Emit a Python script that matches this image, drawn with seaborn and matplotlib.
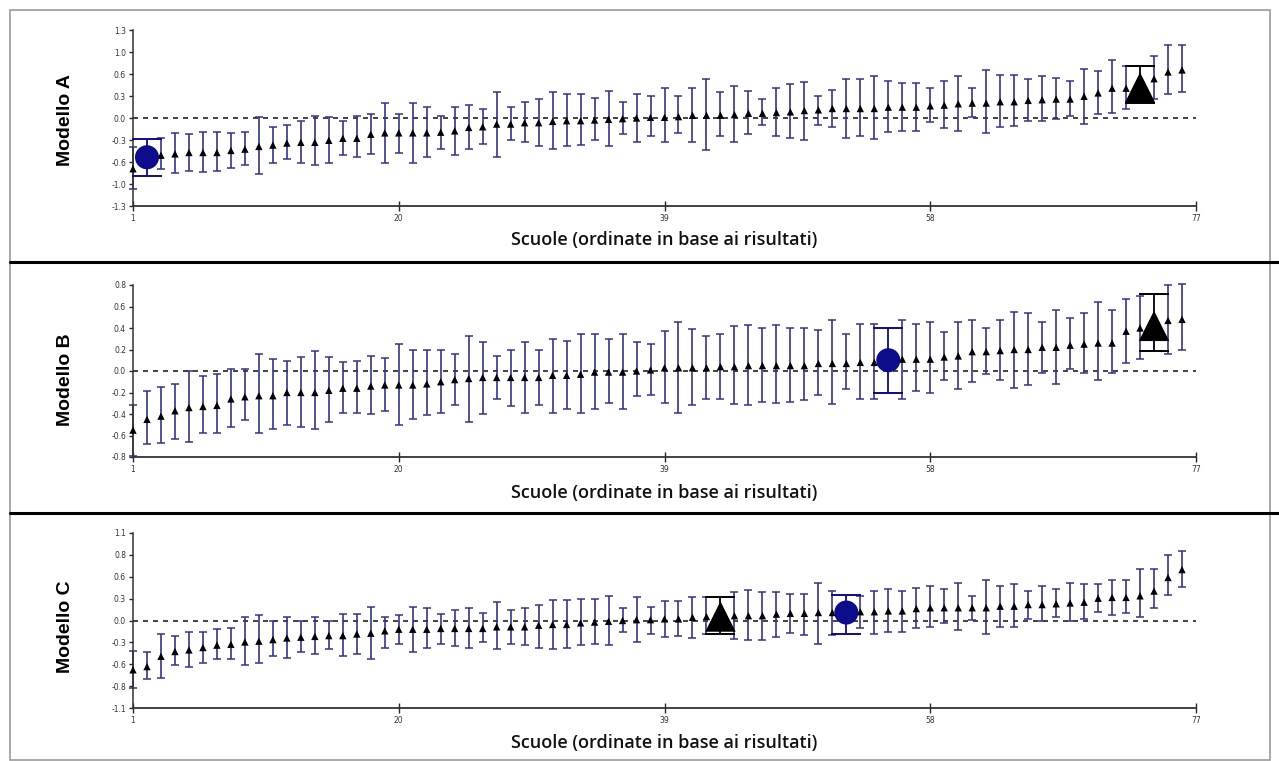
import numpy as np
import pandas as pd
import matplotlib
matplotlib.use("Agg")
import matplotlib.pyplot as plt
import seaborn as sns
from matplotlib.lines import Line2D
from matplotlib.patches import Rectangle

# ranked schools
schools = list(range(1, 77))
x_ticks = [1, 20, 39, 58, 77]

# Modello A
a_mean = [-0.75, -0.58, -0.55, -0.53, -0.51, -0.51, -0.51, -0.48, -0.46, -0.42,
          -0.40, -0.37, -0.36, -0.36, -0.33, -0.30, -0.30, -0.24, -0.22, -0.22,
          -0.22, -0.22, -0.21, -0.19, -0.14, -0.13, -0.09, -0.09, -0.07, -0.07,
          -0.05, -0.04, -0.04, -0.03, -0.02, -0.01, 0.00, 0.01, 0.01, 0.02,
          0.04, 0.04, 0.04, 0.05, 0.07, 0.07, 0.08, 0.09, 0.11, 0.12,
          0.14, 0.14, 0.14, 0.14, 0.16, 0.16, 0.16, 0.18, 0.19, 0.21,
          0.22, 0.22, 0.24, 0.24, 0.26, 0.27, 0.28, 0.28, 0.32, 0.37,
          0.44, 0.44, 0.45, 0.58, 0.68, 0.71]
a_hi = [-0.43, -0.31, -0.30, -0.22, -0.24, -0.20, -0.20, -0.22, -0.20, 0.02,
        -0.14, -0.10, -0.04, 0.03, 0.02, -0.04, 0.03, 0.06, 0.22, 0.06,
        0.22, 0.16, 0.03, 0.16, 0.19, 0.13, 0.38, 0.16, 0.24, 0.28,
        0.38, 0.35, 0.35, 0.29, 0.40, 0.24, 0.35, 0.32, 0.44, 0.32,
        0.44, 0.58, 0.38, 0.48, 0.40, 0.28, 0.44, 0.50, 0.53, 0.33,
        0.42, 0.58, 0.58, 0.62, 0.54, 0.52, 0.52, 0.44, 0.54, 0.62,
        0.45, 0.71, 0.64, 0.64, 0.57, 0.62, 0.59, 0.54, 0.73, 0.70,
        0.85, 0.77, 0.77, 0.91, 1.08, 1.08]
a_lo = [-1.05, -0.85, -0.75, -0.81, -0.79, -0.80, -0.79, -0.74, -0.70, -0.83,
        -0.66, -0.61, -0.66, -0.70, -0.66, -0.55, -0.58, -0.53, -0.66, -0.52,
        -0.66, -0.58, -0.46, -0.54, -0.46, -0.38, -0.57, -0.33, -0.36, -0.41,
        -0.46, -0.41, -0.40, -0.33, -0.42, -0.24, -0.35, -0.26, -0.36, -0.22,
        -0.35, -0.48, -0.26, -0.35, -0.24, -0.11, -0.27, -0.30, -0.32, -0.11,
        -0.14, -0.29, -0.26, -0.31, -0.20, -0.19, -0.19, -0.06, -0.15, -0.19,
        0.01, -0.22, -0.14, -0.12, -0.04, -0.04, -0.01, 0.03, -0.09, 0.06,
        0.07, 0.14, 0.22, 0.28, 0.35, 0.38]

# Modello B
b_mean = [-0.55, -0.45, -0.42, -0.37, -0.34, -0.33, -0.32, -0.26, -0.24, -0.23,
          -0.23, -0.20, -0.20, -0.20, -0.18, -0.16, -0.16, -0.14, -0.13, -0.13,
          -0.13, -0.12, -0.10, -0.08, -0.07, -0.06, -0.06, -0.06, -0.06, -0.06,
          -0.04, -0.04, -0.03, -0.01, -0.01, -0.01, 0.00, 0.01, 0.03, 0.03,
          0.03, 0.03, 0.04, 0.04, 0.05, 0.05, 0.05, 0.05, 0.05, 0.07,
          0.07, 0.07, 0.08, 0.08, 0.10, 0.11, 0.11, 0.11, 0.13, 0.14,
          0.18, 0.18, 0.19, 0.20, 0.20, 0.22, 0.22, 0.24, 0.25, 0.26,
          0.26, 0.37, 0.40, 0.42, 0.47, 0.48]
b_hi = [-0.32, -0.19, -0.15, -0.12, 0.00, -0.05, -0.03, 0.02, 0.02, 0.16,
        0.11, 0.09, 0.13, 0.19, 0.13, 0.08, 0.09, 0.14, 0.12, 0.25,
        0.20, 0.20, 0.20, 0.16, 0.33, 0.27, 0.14, 0.20, 0.27, 0.20,
        0.30, 0.28, 0.34, 0.34, 0.30, 0.34, 0.27, 0.25, 0.37, 0.46,
        0.39, 0.33, 0.34, 0.42, 0.43, 0.40, 0.43, 0.40, 0.40, 0.38,
        0.47, 0.34, 0.44, 0.44, 0.40, 0.47, 0.44, 0.46, 0.36, 0.46,
        0.47, 0.40, 0.47, 0.55, 0.54, 0.46, 0.57, 0.49, 0.54, 0.64,
        0.57, 0.67, 0.70, 0.72, 0.80, 0.81]
b_lo = [-0.79, -0.68, -0.67, -0.63, -0.66, -0.58, -0.58, -0.52, -0.46, -0.58,
        -0.54, -0.50, -0.52, -0.54, -0.47, -0.39, -0.39, -0.40, -0.37, -0.50,
        -0.45, -0.41, -0.39, -0.32, -0.47, -0.40, -0.26, -0.33, -0.39, -0.32,
        -0.39, -0.35, -0.39, -0.35, -0.30, -0.35, -0.23, -0.22, -0.30, -0.39,
        -0.32, -0.26, -0.26, -0.31, -0.32, -0.29, -0.30, -0.29, -0.27, -0.22,
        -0.31, -0.17, -0.26, -0.26, -0.20, -0.26, -0.19, -0.20, -0.08, -0.17,
        -0.10, -0.03, -0.08, -0.16, -0.13, -0.02, -0.12, 0.02, -0.02, -0.08,
        -0.02, 0.07, 0.11, 0.19, 0.16, 0.20]

# Modello C
c_mean = [-0.62, -0.58, -0.45, -0.39, -0.37, -0.34, -0.31, -0.30, -0.27, -0.26,
          -0.24, -0.22, -0.21, -0.20, -0.19, -0.19, -0.17, -0.16, -0.13, -0.11,
          -0.11, -0.11, -0.10, -0.10, -0.10, -0.10, -0.08, -0.08, -0.08, -0.06,
          -0.05, -0.05, -0.03, -0.02, -0.01, 0.00, 0.01, 0.01, 0.02, 0.02,
          0.04, 0.05, 0.05, 0.06, 0.06, 0.06, 0.08, 0.09, 0.09, 0.10,
          0.10, 0.10, 0.11, 0.11, 0.12, 0.12, 0.15, 0.16, 0.16, 0.16,
          0.16, 0.16, 0.18, 0.18, 0.20, 0.20, 0.21, 0.22, 0.23, 0.28,
          0.29, 0.29, 0.31, 0.37, 0.54, 0.64]
c_hi = [-0.38, -0.39, -0.17, -0.19, -0.15, -0.14, -0.11, -0.10, 0.05, 0.07,
        -0.01, 0.04, 0.00, 0.04, 0.00, 0.08, 0.08, 0.17, 0.05, 0.07,
        0.17, 0.16, 0.08, 0.13, 0.16, 0.10, 0.23, 0.13, 0.16, 0.19,
        0.26, 0.26, 0.27, 0.27, 0.31, 0.16, 0.29, 0.17, 0.24, 0.24,
        0.30, 0.29, 0.29, 0.36, 0.38, 0.36, 0.36, 0.33, 0.33, 0.47,
        0.37, 0.32, 0.31, 0.37, 0.40, 0.37, 0.41, 0.43, 0.40, 0.47,
        0.31, 0.51, 0.43, 0.46, 0.37, 0.44, 0.39, 0.47, 0.46, 0.46,
        0.51, 0.51, 0.65, 0.65, 0.82, 0.88]
c_lo = [-0.85, -0.73, -0.72, -0.56, -0.58, -0.54, -0.49, -0.49, -0.56, -0.54,
        -0.45, -0.47, -0.40, -0.42, -0.36, -0.44, -0.42, -0.49, -0.34, -0.30,
        -0.39, -0.34, -0.30, -0.32, -0.34, -0.27, -0.36, -0.29, -0.31, -0.34,
        -0.36, -0.34, -0.31, -0.29, -0.31, -0.14, -0.27, -0.17, -0.21, -0.20,
        -0.22, -0.17, -0.17, -0.23, -0.25, -0.24, -0.21, -0.16, -0.18, -0.29,
        -0.18, -0.17, -0.09, -0.17, -0.15, -0.14, -0.10, -0.08, -0.03, -0.12,
        0.01, -0.17, -0.08, -0.08, 0.02, -0.01, 0.04, 0.00, 0.02, 0.11,
        0.07, 0.09, 0.04, 0.16, 0.32, 0.42]

panel_names = ["Modello A", "Modello B", "Modello C"]
y_limits = [1.3, 0.8, 1.1]
y_tick_labels = [
    ["-1.3", "-1.0", "-0.6", "-0.3", "0.0", "0.3", "0.6", "1.0", "1.3"],
    ["-0.8", "-0.6", "-0.4", "-0.2", "0.0", "0.2", "0.4", "0.6", "0.8"],
    ["-1.1", "-0.8", "-0.6", "-0.3", "0.0", "0.3", "0.6", "0.8", "1.1"],
]
circle_school = [2, 55, 52]
triangle_school = [73, 74, 43]

sns.set_style("white")
W, H = 1279, 761
fig = plt.figure(figsize=(W / 100, H / 100), dpi=100)

bar_col = "#34348a"
dot_col = "#0c0c8c"

# axes boxes in pixels: (top of y range, bottom of y range)
ax_px = [(30, 206), (285, 457), (533, 708)]
ylab_y = [120, 380, 627]
label_y = [240, 493, 743]
x0, x1 = 133, 1196

data = [(a_mean, a_lo, a_hi), (b_mean, b_lo, b_hi), (c_mean, c_lo, c_hi)]

for k in range(3):
    top, bot = ax_px[k]
    ax = fig.add_axes([x0 / W, 1 - bot / H, (x1 - x0) / W, (bot - top) / H])
    mean, lo, hi = data[k]
    df = pd.DataFrame({"school": schools, "mean": mean, "lo": lo, "hi": hi})

    normal = df[~df["school"].isin([circle_school[k], triangle_school[k]])]
    ax.errorbar(normal["school"], normal["mean"],
                yerr=[normal["mean"] - normal["lo"], normal["hi"] - normal["mean"]],
                fmt="none", ecolor=bar_col, elinewidth=1.4, capsize=3,
                capthick=1.3, alpha=0.85, clip_on=False, zorder=2)
    ax.axhline(0, xmin=0, xmax=1, color="#222222", ls=(0, (3, 3)), lw=1.2, zorder=1)
    sns.scatterplot(data=df, x="school", y="mean", marker="^", color="black",
                    s=28, edgecolor="none", ax=ax, zorder=3, clip_on=False)

    # highlighted schools
    c = df[df["school"] == circle_school[k]]
    ax.errorbar(c["school"], c["mean"],
                yerr=[c["mean"] - c["lo"], c["hi"] - c["mean"]],
                fmt="none", ecolor=dot_col, elinewidth=1.3, capsize=11,
                capthick=1.4, zorder=4, clip_on=False)
    sns.scatterplot(data=c, x="school", y="mean", marker="o", color=dot_col,
                    s=300, edgecolor="none", ax=ax, zorder=5, clip_on=False)
    t = df[df["school"] == triangle_school[k]]
    ax.errorbar(t["school"], t["mean"],
                yerr=[t["mean"] - t["lo"], t["hi"] - t["mean"]],
                fmt="none", ecolor="black", elinewidth=1.3, capsize=11,
                capthick=1.4, zorder=4, clip_on=False)
    sns.scatterplot(data=t, x="school", y="mean", marker="^", color="black",
                    s=480, edgecolor="none", ax=ax, zorder=5, clip_on=False)

    lim = y_limits[k]
    ax.set_xlim(1, 77)
    ax.set_ylim(-lim, lim)
    ax.set_xticks(x_ticks)
    ax.set_xticklabels([str(v) for v in x_ticks])
    ax.set_yticks(np.linspace(-lim, lim, 9))
    ax.set_yticklabels(y_tick_labels[k])
    ax.tick_params(axis="both", labelsize=5.5, labelcolor="#333333", pad=2)
    ax.tick_params(axis="y", direction="out", length=3, width=1, left=True)
    ax.tick_params(axis="x", direction="inout", length=7, width=1, bottom=True)
    sns.despine(ax=ax)
    ax.spines["left"].set_linewidth(1.1)
    ax.spines["bottom"].set_linewidth(1.3)
    ax.spines["left"].set_color("#333333")
    ax.spines["bottom"].set_color("#333333")
    ax.set_facecolor("none")

    ax.set_ylabel(panel_names[k], fontsize=14, fontweight="bold",
                  family="Liberation Sans", color="black")
    ax.yaxis.set_label_coords((65 - x0) / (x1 - x0),
                              0.5 + ((top + bot) / 2 - ylab_y[k]) / (bot - top))
    ax.yaxis.label.set_va("center")
    ax.set_xlabel("Scuole (ordinate in base ai risultati)", fontsize=13,
                  fontweight="semibold", family="Open Sans", color="#111111")
    ax.xaxis.set_label_coords(0.5, -(label_y[k] - bot) / (bot - top))
    ax.xaxis.label.set_va("center")

# frames and separators
fig.patches.append(Rectangle((10 / W, 1 - 760 / H), 1260 / W, 750 / H,
                             transform=fig.transFigure, fill=False,
                             edgecolor="#9a9a9a", lw=1.2))
for yy in (262, 513):
    fig.lines.append(Line2D([10 / W, 1], [1 - yy / H, 1 - yy / H],
                            transform=fig.transFigure, color="black", lw=2.2))

fig.savefig("out.png", dpi=100)
